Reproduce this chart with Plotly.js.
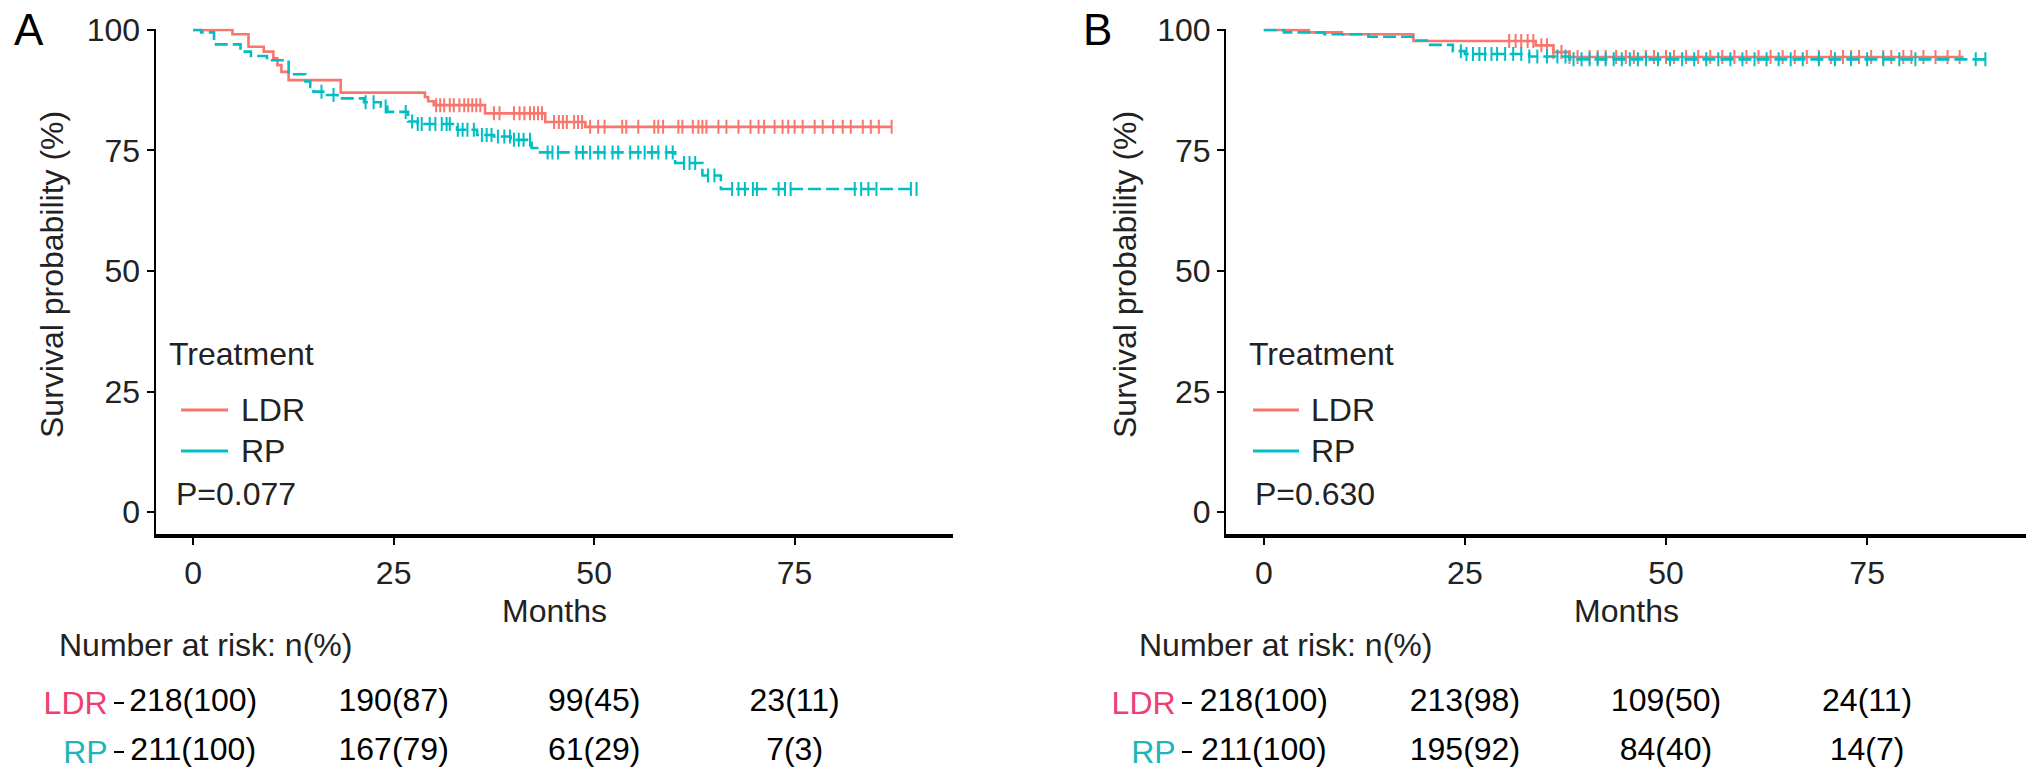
<!DOCTYPE html>
<html>
<head>
<meta charset="utf-8">
<script src="https://cdn.plot.ly/plotly-3.0.1.min.js"></script>
<style>html,body{margin:0;padding:0;background:#fff;}#chart{width:2032px;height:782px;}</style>
</head>
<body>
<div id="chart"></div>
<script>
// ---------------- DATA ----------------
const strata = ['LDR', 'RP'];
const riskTimes = [0, 25, 50, 75];
const xTicks = [0, 25, 50, 75];
const yTicks = [0, 25, 50, 75, 100];

// Panel A – Kaplan-Meier steps
const ldrA_t = [0, 4.9, 6.9, 8.8, 10.0, 10.5, 11.0, 11.9, 18.4, 28.9, 29.3, 30.0, 36.4, 43.9, 48.9, 87.1];
const ldrA_s = [100, 99.1, 96.5, 95.5, 94.1, 92.7, 91.3, 89.6, 87.0, 86.1, 85.2, 84.4, 82.7, 80.9, 79.9, 79.9];
const rpA_t = [0, 1.0, 2.6, 5.9, 7.2, 9.2, 11.9, 14.0, 14.6, 15.0, 16.7, 18.0, 21.3, 23.4, 24.2, 26.8, 28.0, 32.9, 35.4, 37.5, 39.6, 42.2, 42.9, 60.1, 63.5, 65.8, 90.3];
const rpA_s = [100, 99.5, 97.0, 95.5, 94.6, 93.7, 90.8, 89.3, 88.2, 87.2, 86.5, 85.8, 85.0, 84.1, 83.0, 81.0, 80.5, 79.3, 78.2, 77.9, 77.2, 75.5, 74.6, 72.4, 69.8, 67.0, 67.0];
const ldrA_cens = [30.3, 30.8, 31.3, 32.0, 32.5, 33.2, 33.8, 34.3, 34.8, 35.3, 35.8, 37.5, 38.2, 40.0, 40.7, 41.3, 42.0, 42.5, 43.0, 43.5, 45.0, 45.6, 46.1, 46.6, 47.5, 48.0, 48.5, 49.5, 50.5, 51.3, 53.5, 54.0, 55.5, 57.5, 58.0, 58.6, 60.5, 61.0, 62.3, 63.0, 63.5, 64.0, 65.5, 66.5, 68.0, 69.5, 70.5, 71.2, 72.5, 73.5, 74.2, 75.0, 76.0, 77.5, 78.5, 79.8, 81.0, 82.0, 83.5, 84.5, 85.5, 87.1];
const rpA_cens = [16.0, 17.5, 21.5, 22.5, 24.0, 26.5, 27.3, 28.0, 28.5, 29.5, 30.2, 31.0, 31.6, 32.0, 33.0, 33.6, 34.2, 35.0, 36.0, 36.6, 37.2, 38.0, 38.8, 39.5, 40.0, 40.6, 41.2, 42.0, 44.2, 44.8, 45.5, 47.8, 48.6, 49.5, 50.5, 51.3, 52.3, 53.0, 54.5, 55.5, 56.3, 57.2, 58.0, 59.0, 59.8, 61.2, 61.9, 62.6, 64.2, 65.0, 67.2, 68.0, 68.8, 69.8, 70.3, 73.0, 73.8, 74.5, 82.5, 83.3, 84.2, 85.2, 89.5, 90.2];

// Panel B – Kaplan-Meier steps
const ldrB_t = [0, 5.6, 9.7, 18.6, 33.8, 36.0, 38.0, 87.0];
const ldrB_s = [100, 99.5, 99.1, 97.7, 96.8, 95.4, 94.4, 94.4];
const rpB_t = [0, 2.5, 7.5, 13.0, 18.5, 20.5, 23.5, 25.0, 33.0, 38.0, 89.7];
const rpB_s = [100, 99.5, 99.1, 98.6, 97.8, 96.9, 95.6, 95.0, 94.5, 93.9, 93.9];
const ldrB_cens = [30.5, 31.3, 32.0, 32.8, 33.5, 34.5, 35.2, 36.0, 37.0, 38.0, 39.0, 40.5, 41.5, 42.5, 43.8, 45.0, 46.0, 47.5, 48.5, 50.0, 51.0, 52.5, 54.0, 55.5, 57.0, 58.5, 60.0, 61.5, 63.0, 64.5, 66.0, 67.5, 69.0, 70.5, 72.0, 73.0, 74.0, 75.5, 77.0, 78.0, 79.5, 80.5, 82.0, 83.5, 85.0, 86.5];
const rpB_cens = [24.5, 25.2, 26.0, 26.8, 27.5, 28.3, 29.0, 30.0, 31.0, 32.0, 33.0, 34.0, 35.2, 36.5, 37.5, 38.5, 39.5, 40.5, 41.5, 42.5, 43.5, 44.5, 45.5, 46.5, 47.5, 49.0, 50.5, 52.0, 53.5, 55.0, 56.5, 58.0, 59.5, 61.0, 62.5, 64.0, 65.5, 67.0, 69.0, 71.0, 73.0, 75.0, 77.0, 79.0, 81.0, 88.5, 89.7];

// Number at risk
const riskA_ldr = ['218(100)', '190(87)', '99(45)', '23(11)'];
const riskA_rp  = ['211(100)', '167(79)', '61(29)', '7(3)'];
const riskB_ldr = ['218(100)', '213(98)', '109(50)', '24(11)'];
const riskB_rp  = ['211(100)', '195(92)', '84(40)', '14(7)'];
const pValues = ['P=0.077', 'P=0.630'];
const panelLabels = ['A', 'B'];

// ---------------- STYLE ----------------
const W = 2032, H = 782;
const FONT = 'Liberation Sans, Arial, Helvetica, sans-serif';
const COL = {LDR: '#F8766D', RP: '#00BFC4'};
const TABCOL = {LDR: '#EE3F70', RP: '#1DB5B9'};
const FS = 32;
const fx = v => v / W;
const fy = v => 1 - v / H;

function stepAt(ts, ss, t) {
  let v = ss[0];
  for (let i = 0; i < ts.length; i++) { if (ts[i] <= t) v = ss[i]; else break; }
  return v;
}

function kmTraces(ts, ss, cens, name, xa, ya, dash) {
  return [
    {x: ts, y: ss, type: 'scatter', mode: 'lines', line: {shape: 'hv', color: COL[name], width: 2.6, dash: dash},
     xaxis: xa, yaxis: ya, showlegend: false, hoverinfo: 'skip'},
    {x: cens, y: cens.map(t => stepAt(ts, ss, t)), type: 'scatter', mode: 'markers',
     marker: {symbol: 'line-ns-open', size: 10, color: COL[name], line: {color: COL[name], width: 2}},
     xaxis: xa, yaxis: ya, showlegend: false, hoverinfo: 'skip'}
  ];
}

function riskTrace(vals, stratum, xa, ya) {
  return {x: riskTimes, y: riskTimes.map(() => stratum), text: vals, mode: 'text', type: 'scatter',
    textposition: 'middle center', cliponaxis: false,
    textfont: {family: FONT, size: FS, color: '#000'}, xaxis: xa, yaxis: ya, showlegend: false, hoverinfo: 'skip'};
}

const RPDASH = '13px,5px';
const traces = [].concat(
  kmTraces(ldrA_t, ldrA_s, ldrA_cens, 'LDR', 'x', 'y', 'solid'),
  kmTraces(rpA_t, rpA_s, rpA_cens, 'RP', 'x', 'y', RPDASH),
  kmTraces(ldrB_t, ldrB_s, ldrB_cens, 'LDR', 'x2', 'y2', 'solid'),
  kmTraces(rpB_t, rpB_s, rpB_cens, 'RP', 'x2', 'y2', RPDASH),
  [
    riskTrace(riskA_ldr, 'LDR', 'x3', 'y3'),
    riskTrace(riskA_rp, 'RP', 'x3', 'y3'),
    riskTrace(riskB_ldr, 'LDR', 'x4', 'y4'),
    riskTrace(riskB_rp, 'RP', 'x4', 'y4')
  ]
);

const XR = [-4.7, 94.7];
const YR = [-4.56, 100.3];
const yDom = [fy(534), fy(28.5)];
const xDomA = [fx(155.5), fx(952.6)];
const xDomB = [fx(1226), fx(2025.6)];
const tabDom = [0.0073, 0.1331];

function xAxis(domain, anchor) {
  return {domain: domain, range: XR, anchor: anchor, showgrid: false, zeroline: false, showline: true,
    linecolor: '#000', linewidth: 3.5, ticks: 'outside', ticklen: 7, tickwidth: 2, tickcolor: '#000',
    tickvals: xTicks, ticktext: xTicks.map(String), tickfont: {family: FONT, size: FS, color: '#222'},
    ticklabelstandoff: 1, fixedrange: true};
}
function yAxis(anchor) {
  return {domain: yDom, range: YR, anchor: anchor, showgrid: false, zeroline: false, showline: true,
    linecolor: '#000', linewidth: 2, ticks: 'outside', ticklen: 7, tickwidth: 2, tickcolor: '#000',
    tickvals: yTicks, ticktext: yTicks.map(String), tickfont: {family: FONT, size: FS, color: '#222'},
    fixedrange: true};
}
function tabX(domain, anchor) {
  return {domain: domain, range: XR, anchor: anchor, visible: false, fixedrange: true};
}
function tabY(pos) {
  return {domain: tabDom, type: 'category', categoryorder: 'array', categoryarray: ['RP', 'LDR'], range: [-0.5, 1.5],
    anchor: 'free', position: pos, showline: false, showgrid: false, zeroline: false,
    ticks: 'outside', ticklen: 10, tickwidth: 2, tickcolor: '#000',
    tickvals: strata, ticktext: strata.map(s => '<span style="color:' + TABCOL[s] + '">' + s + '</span>'),
    tickfont: {family: FONT, size: FS, color: '#000'}, fixedrange: true};
}

const ann = [];
function txt(x, y, text, opts) {
  ann.push(Object.assign({xref: 'paper', yref: 'paper', x: fx(x), y: fy(y), text: text, showarrow: false,
    xanchor: 'left', yanchor: 'middle', borderpad: 0, font: {family: FONT, size: FS, color: '#222'}}, opts || {}));
}
// panel letters
txt(13, 29, panelLabels[0], {font: {family: FONT, size: 44, color: '#000'}});
txt(1082, 29, panelLabels[1], {font: {family: FONT, size: 44, color: '#000'}});
// y titles
txt(52, 275, 'Survival probability (%)', {textangle: -90, xanchor: 'center'});
txt(1125, 275, 'Survival probability (%)', {textangle: -90, xanchor: 'center'});
// x titles
txt(554, 611, 'Months', {xanchor: 'center'});
txt(1626, 611, 'Months', {xanchor: 'center'});
// legends
txt(168, 354, 'Treatment');
txt(240, 410, 'LDR');
txt(240, 451, 'RP');
txt(175, 494, pValues[0]);
txt(1248, 354, 'Treatment');
txt(1310, 410, 'LDR');
txt(1310, 451, 'RP');
txt(1254, 494, pValues[1]);
// risk table headers
txt(58, 645, 'Number at risk: n(%)');
txt(1138, 645, 'Number at risk: n(%)');

const shapes = [];
function legLine(x0, x1, y, col) {
  shapes.push({type: 'line', xref: 'paper', yref: 'paper', x0: fx(x0), x1: fx(x1), y0: fy(y), y1: fy(y),
    line: {color: col, width: 3}});
}
legLine(181, 228, 410, COL.LDR);
legLine(181, 228, 451, COL.RP);
legLine(1253, 1299, 410, COL.LDR);
legLine(1253, 1299, 451, COL.RP);

const layout = {
  width: W, height: H, margin: {l: 0, r: 0, t: 0, b: 0}, paper_bgcolor: '#fff', plot_bgcolor: 'rgba(0,0,0,0)',
  showlegend: false,
  xaxis: xAxis(xDomA, 'y'), yaxis: yAxis('x'),
  xaxis2: xAxis(xDomB, 'y2'), yaxis2: yAxis('x2'),
  xaxis3: tabX(xDomA, 'y3'), yaxis3: tabY(fx(124)),
  xaxis4: tabX(xDomB, 'y4'), yaxis4: tabY(fx(1192)),
  annotations: ann, shapes: shapes
};

Plotly.newPlot('chart', traces, layout, {staticPlot: true, displayModeBar: false});
</script>
</body>
</html>
